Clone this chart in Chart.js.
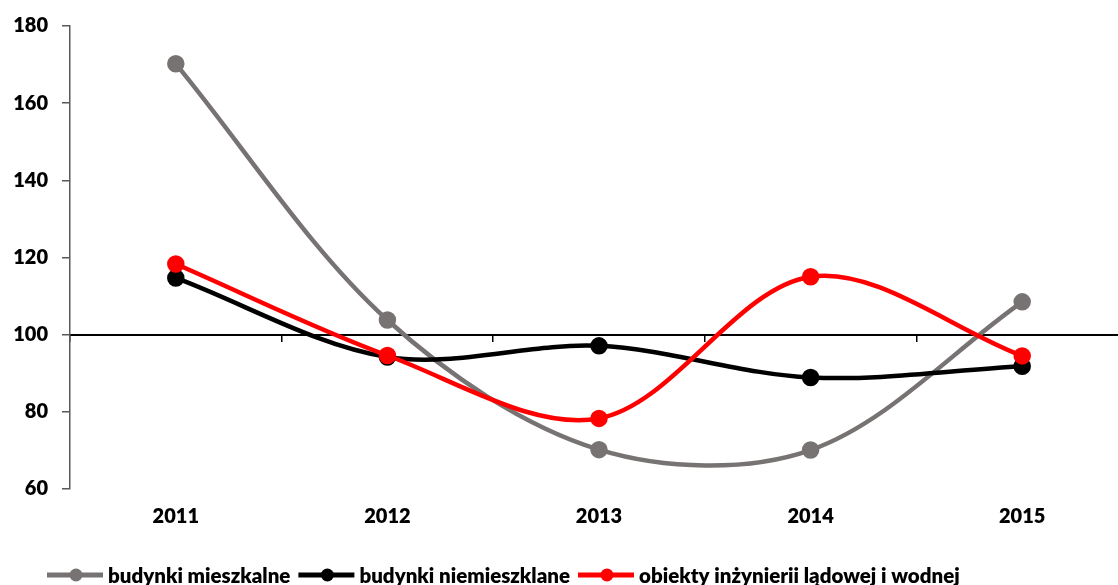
<!DOCTYPE html>
<html>
<head>
<meta charset="utf-8">
<script src="https://cdn.jsdelivr.net/npm/chart.js@4/dist/chart.umd.min.js"></script>
<style>
  html, body { margin: 0; padding: 0; background: #fff; overflow: hidden; }
  #wrap { width: 1139px; height: 585px; }
</style>
</head>
<body>
<div id="wrap"><canvas id="c" width="1139" height="585"></canvas></div>
<script>
const categories = ['2011', '2012', '2013', '2014', '2015'];
const seriesNames = ['budynki mieszkalne', 'budynki niemieszklane', 'obiekty inżynierii lądowej i wodnej'];
const mieszkalne = [170.2, 103.8, 70.2, 70.1, 108.5];
const niemieszkalne = [114.7, 94.2, 97.1, 88.9, 91.8];
const inzynieria = [118.3, 94.6, 78.3, 115.0, 94.5];
const yTicks = [60, 80, 100, 120, 140, 160, 180];
const colors = ['#777372', '#000000', '#ff0000'];

const FONT = 'Lato, "Open Sans", "Noto Sans", sans-serif';
const WEIGHT = '800';

const legendPlugin = {
  id: 'customLegend',
  afterDraw(chart) {
    const ctx = chart.ctx;
    ctx.save();
    ctx.font = WEIGHT + ' 20.5px ' + FONT;
    ctx.textBaseline = 'middle';
    let x = 47;
    const y = 575;
    chart.data.datasets.slice().sort((a, b) => a.legendIndex - b.legendIndex).forEach(ds => {
      ctx.strokeStyle = ds.borderColor;
      ctx.lineWidth = 5;
      ctx.beginPath();
      ctx.moveTo(x, y);
      ctx.lineTo(x + 56, y);
      ctx.stroke();
      ctx.fillStyle = ds.borderColor;
      ctx.beginPath();
      ctx.arc(x + 29, y, 6.5, 0, Math.PI * 2);
      ctx.fill();
      ctx.fillStyle = '#000';
      ctx.fillText(ds.label, x + 61, y + 1);
      x += 61 + ctx.measureText(ds.label).width + 8;
    });
    ctx.restore();
  }
};

function mk(label, data, color, order, legendIndex) {
  return {
    label, data, order, legendIndex,
    borderColor: color, backgroundColor: color,
    pointBackgroundColor: color, pointBorderColor: color,
    borderWidth: 4.5, pointRadius: 6.5, pointHoverRadius: 6.5,
    tension: 0.33, fill: false, xAxisID: 'x', yAxisID: 'y'
  };
}

new Chart(document.getElementById('c'), {
  type: 'line',
  data: {
    labels: categories,
    datasets: [
      mk(seriesNames[0], mieszkalne, colors[0], 3, 0),
      mk(seriesNames[1], niemieszkalne, colors[1], 2, 1),
      mk(seriesNames[2], inzynieria, colors[2], 1, 2)
    ]
  },
  options: {
    responsive: false,
    animation: false,
    layout: { padding: { top: 26, right: 2, left: 0, bottom: 0 } },
    plugins: { legend: { display: false }, tooltip: { enabled: false } },
    scales: {
      x: {
        type: 'category',
        position: { y: 100 },
        offset: true,
        ticks: { display: false },
        grid: { display: true, drawOnChartArea: false, drawTicks: true, tickLength: 6, color: '#000', lineWidth: 1.5, offset: true },
        border: { display: true, color: '#000', width: 2 },
        afterFit: s => { s.height = 0; }
      },
      x2: {
        type: 'category',
        position: 'bottom',
        offset: true,
        grid: { display: false, drawTicks: false },
        border: { display: false },
        ticks: { color: '#000', font: { family: FONT, size: 20, weight: WEIGHT }, padding: 16, maxRotation: 0 },
        afterFit: s => { s.height = 96; }
      },
      y: {
        type: 'linear',
        position: 'left',
        min: 60, max: 180,
        afterBuildTicks: s => { s.ticks = yTicks.map(v => ({ value: v })); },
        ticks: { color: '#000', font: { family: FONT, size: 20, weight: WEIGHT }, padding: 14 },
        grid: { display: true, drawOnChartArea: false, drawTicks: true, tickLength: 8, color: '#595959', lineWidth: 1.5 },
        border: { display: true, color: '#595959', width: 1.5 },
        afterFit: s => { s.width = 70; }
      }
    }
  },
  plugins: [legendPlugin]
});
</script>
</body>
</html>
